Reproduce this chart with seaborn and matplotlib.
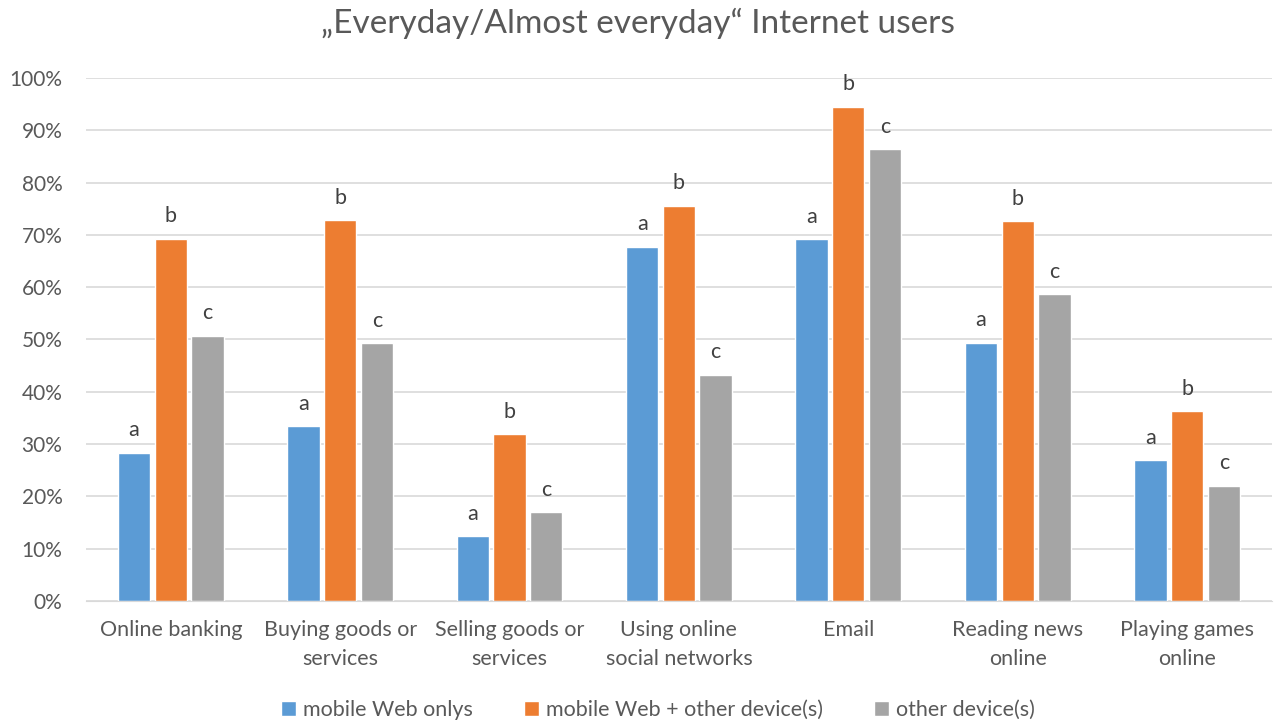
import pandas as pd
import matplotlib
matplotlib.use('Agg')
import matplotlib.pyplot as plt
from matplotlib.ticker import PercentFormatter
import seaborn as sns

# categories and series
categories = ['Online banking', 'Buying goods or\nservices', 'Selling goods or\nservices',
              'Using online\nsocial networks', 'Email', 'Reading news\nonline',
              'Playing games\nonline']
series = ['mobile Web onlys', 'mobile Web + other device(s)', 'other device(s)']
mobile_only = [28.3, 33.4, 12.4, 67.7, 69.2, 49.4, 26.9]
mobile_plus = [69.3, 72.8, 31.9, 75.6, 94.5, 72.6, 36.3]
other_dev = [50.7, 49.3, 17.0, 43.3, 86.4, 58.6, 22.0]
letters = ['a', 'b', 'c']
colors = ['#5b9bd5', '#ed7d31', '#a5a5a5']

df = pd.DataFrame({
    'category': categories * 3,
    'series': [s for s in series for _ in categories],
    'value': [v / 100 for v in mobile_only + mobile_plus + other_dev],
})

sns.set_style('white')
plt.rcParams['font.family'] = ['Lato', 'DejaVu Sans']
txt = '#595959'

fig = plt.figure(figsize=(12.75, 7.26), dpi=100)
ax = fig.add_axes([0.0675, 0.1722, 0.930, 0.7204])

sns.barplot(data=df, x='category', y='value', hue='series', palette=colors,
            width=0.65, gap=0.12, ax=ax, saturation=1, legend=True)

for cont, let in zip(ax.containers, letters):
    ax.bar_label(cont, labels=[let] * len(cont), padding=9, fontsize=15.5, color='#404040')

ax.set_ylim(0, 1)
ax.set_yticks([i / 10 for i in range(11)])
ax.yaxis.set_major_formatter(PercentFormatter(1.0, decimals=0))
ax.yaxis.grid(True, color='#d9d9d9', linewidth=1.2)
ax.set_axisbelow(True)
ax.set_xlabel('')
ax.set_ylabel('')
ax.set_xlim(-0.5, len(categories) - 0.5)
for s in ['top', 'right', 'left']:
    ax.spines[s].set_visible(False)
ax.spines['bottom'].set_color('#d9d9d9')
ax.tick_params(axis='y', length=0, pad=17, labelsize=15, labelcolor=txt)
ax.tick_params(axis='x', length=0, pad=14, labelsize=15.5, labelcolor=txt)
for lab in ax.get_xticklabels():
    lab.set_linespacing(1.55)

ax.legend(loc='lower center', bbox_to_anchor=(0.516, -0.018), bbox_transform=fig.transFigure,
          ncol=3, frameon=False, fontsize=15.5, labelcolor=txt,
          handlelength=0.7, handleheight=0.7, handletextpad=0.3, columnspacing=2.4)

fig.text(0.5, 0.968, '\u201eEveryday/Almost everyday\u201c Internet users',
         ha='center', va='center', fontsize=24, color=txt)

fig.savefig('out.png', dpi=100)
